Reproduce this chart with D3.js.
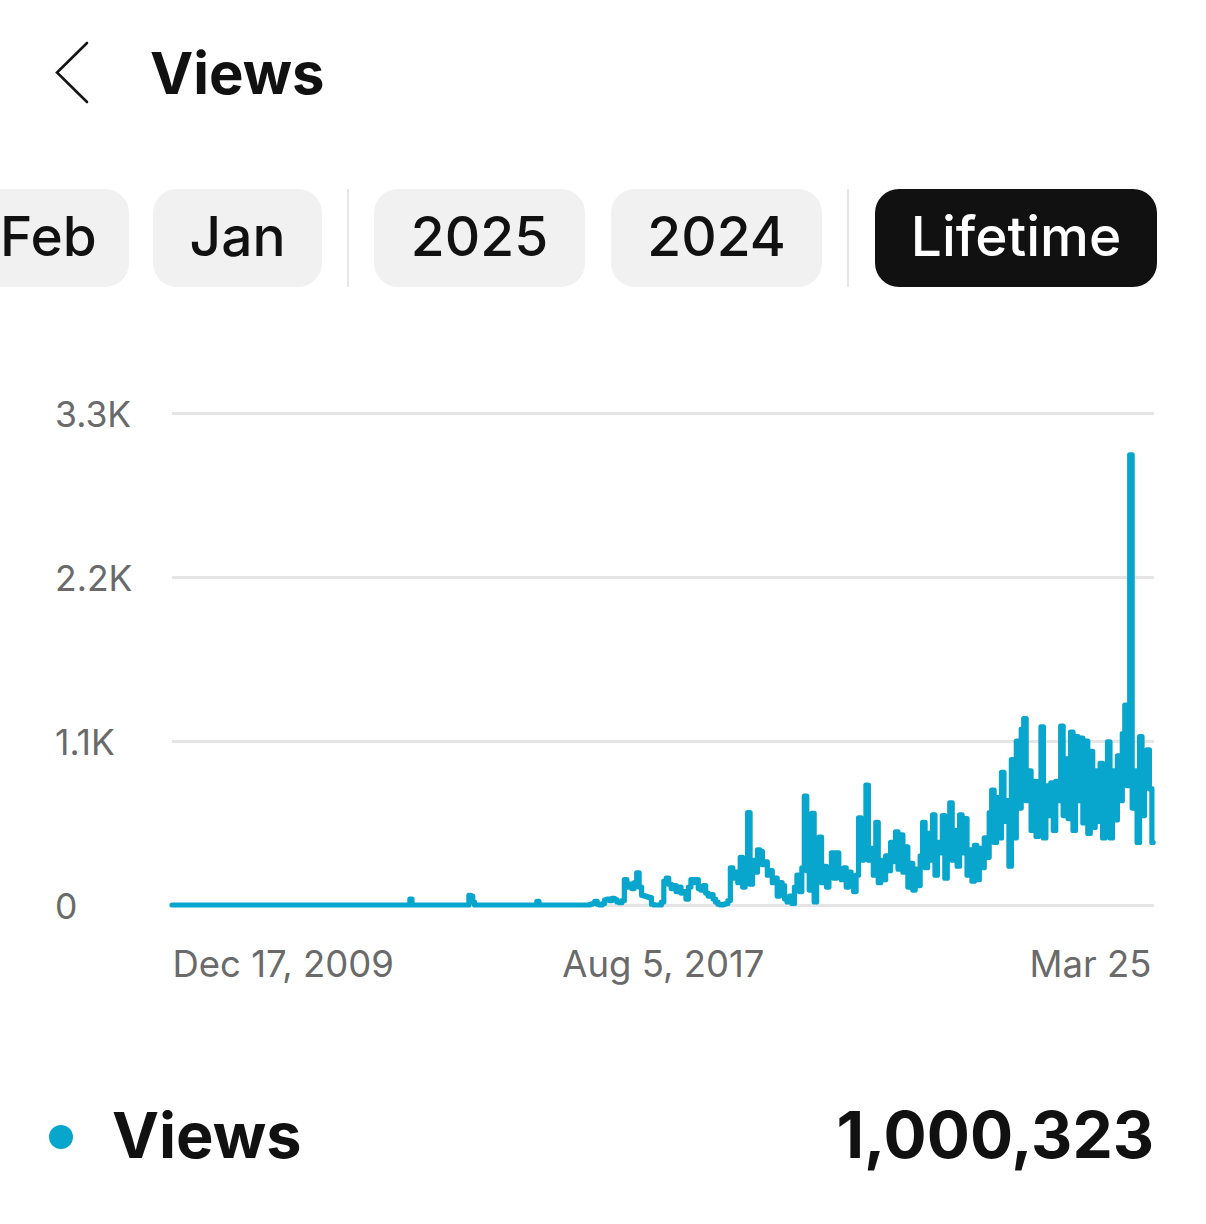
<!DOCTYPE html>
<html>
<head>
<meta charset="utf-8">
<script src="https://cdn.jsdelivr.net/npm/d3@7"></script>
<style>
  html, body { margin: 0; padding: 0; background: #ffffff; }
  svg { display: block; }
  text { font-family: Inter, "Noto Sans", "Liberation Sans", sans-serif; }
</style>
</head>
<body>
<svg id="chart" width="1206" height="1224"></svg>
<script>
// ---------------- data ----------------
const titleText = "Views";
const periodLabels = ["Feb", "Jan", "2025", "2024", "Lifetime"];
const selectedPeriod = "Lifetime";
const legendLabel = "Views";
const totalViews = 1000323;

const startDate = "2009-12-17";
const endDate = "2025-03-25";

// sparse early days (days since startDate) and daily views
const earlyDays  = [0, 1345, 1357, 1369, 1680, 1692, 1704, 1712, 1724, 2066, 2078, 2090];
const earlyViews = [0,    0,   40,    0,    0,   65,   60,   20,    0,    0,   25,    0];

// recent period, sampled every 14 days from recentStart
const recentStart = "2016-05-26";
const recentStepDays = 14;
const recentViews = [
  0, 0, 5, 10, 25, 5, 0, 10, 35, 40,
  30, 45, 35, 20, 15, 30, 170, 120, 140, 110,
  150, 215, 120, 65, 60, 55, 50, 5, 0, 0,
  0, 20, 160, 180, 140, 110, 130, 90, 120, 80,
  90, 40, 120, 170, 150, 170, 110, 100, 130, 80,
  60, 70, 40, 20, 5, 0, 5, 10, 30, 250,
  180, 220, 150, 320, 120, 260, 620, 140, 300, 220,
  370, 360, 270, 290, 200, 230, 150, 180, 60, 150,
  130, 40, 20, 60, 10, 120, 200, 90, 250, 730,
  230, 100, 615, 20, 190, 455, 150, 260, 120, 250,
  350, 180, 350, 220, 170, 250, 120, 220, 180, 90,
  200, 585, 300, 480, 805, 300, 380, 200, 555, 150,
  300, 170, 330, 230, 420, 290, 490, 240, 470, 220,
  390, 120, 280, 100, 240, 130, 330, 555, 250, 480,
  300, 605, 200, 420, 350, 600, 180, 450, 685, 300,
  500, 260, 605, 350, 580, 200, 370, 160, 400, 170,
  380, 250, 450, 320, 620, 770, 420, 720, 450, 890,
  560, 700, 260, 975, 450, 1100, 650, 1180, 1250, 700,
  900, 500, 830, 460, 830, 1195, 450, 800, 600, 820,
  500, 830, 700, 1200, 600, 980, 580, 1160, 500, 1130,
  700, 1120, 550, 1100, 480, 1030, 520, 900, 560, 950,
  450, 700, 1095, 450, 900, 570, 1000, 700, 1150, 1340,
  800, 3020, 650, 900, 420, 1130, 600, 1000, 1040, 780,
  420
];

const yTicks = [0, 1100, 2200, 3300];
const yTickLabels = ["0", "1.1K", "2.2K", "3.3K"];
const xTickDates = ["2009-12-17", "2017-08-05", "2025-03-25"];
const xTickLabels = ["Dec 17, 2009", "Aug 5, 2017", "Mar 25"];

// ---------------- build ----------------
(function () {
const parse = d3.utcParse("%Y-%m-%d");
const t0 = parse(startDate), t1 = parse(endDate), tr = parse(recentStart);
const series = [];
earlyDays.forEach((d, i) => series.push({ date: d3.utcDay.offset(t0, d), value: earlyViews[i] }));
recentViews.forEach((v, i) => series.push({ date: d3.utcDay.offset(tr, i * recentStepDays), value: v }));

const lineColor = "#08a5cd";
const svg = d3.select("#chart");

// header
svg.append("path")
  .attr("d", "M87,43 L57,72.5 L87,102")
  .attr("fill", "none").attr("stroke", "#151515").attr("stroke-width", 2.6)
  .attr("stroke-linecap", "round").attr("stroke-linejoin", "miter");
svg.append("text").attr("x", 150).attr("y", 94)
  .attr("font-size", 58).attr("font-weight", 700).attr("fill", "#111")
  .text(titleText);

// period buttons
const buttons = [
  { label: periodLabels[0], x0: -40, x1: 129 },
  { label: periodLabels[1], x0: 153, x1: 322 },
  { label: periodLabels[2], x0: 374, x1: 585 },
  { label: periodLabels[3], x0: 611, x1: 822 },
  { label: periodLabels[4], x0: 875, x1: 1157 }
];
const btnY = 189, btnH = 98;
const bg = svg.append("g");
buttons.forEach((b, i) => {
  const sel = b.label === selectedPeriod;
  bg.append("rect").attr("x", b.x0).attr("y", btnY).attr("width", b.x1 - b.x0).attr("height", btnH)
    .attr("rx", 24).attr("fill", sel ? "#111111" : "#f1f1f1");
  const tx = i === 0 ? 0 : (b.x0 + b.x1) / 2;
  bg.append("text").attr("x", tx).attr("y", 256)
    .attr("text-anchor", i === 0 ? "start" : "middle")
    .attr("font-size", 55).attr("font-weight", 500)
    .attr("fill", sel ? "#ffffff" : "#111111")
    .text(b.label);
});
[348, 848].forEach(sx => {
  bg.append("line").attr("x1", sx).attr("x2", sx).attr("y1", btnY).attr("y2", btnY + btnH)
    .attr("stroke", "#e6e6e6").attr("stroke-width", 2);
});

// chart
const pLeft = 172, pRight = 1154, pTop = 413, pBottom = 905;
const x = d3.scaleUtc().domain([t0, t1]).range([pLeft, pRight]);
const y = d3.scaleLinear().domain([0, 3300]).range([pBottom, pTop]);

const yAxis = svg.append("g").attr("transform", `translate(${pLeft},0)`)
  .call(d3.axisLeft(y).tickValues(yTicks).tickSize(-(pRight - pLeft))
    .tickFormat((d, i) => yTickLabels[i]));
yAxis.select(".domain").remove();
yAxis.selectAll(".tick line").attr("stroke", "#e5e5e5").attr("stroke-width", 3);
yAxis.selectAll(".tick text")
  .attr("x", 55 - pLeft).attr("text-anchor", "start").attr("dy", "0.38em")
  .attr("font-size", 35.5).attr("fill", "#6a6a6a")
  .style("font-family", "Inter, 'Noto Sans', sans-serif");

const xAxis = svg.append("g").attr("transform", `translate(0,${pBottom})`)
  .call(d3.axisBottom(x).tickValues(xTickDates.map(parse)).tickSize(0)
    .tickFormat((d, i) => xTickLabels[i]));
xAxis.select(".domain").remove();
xAxis.selectAll(".tick text")
  .attr("y", 72).attr("dy", 0)
  .attr("dx", (d, i) => i === xTickLabels.length - 1 ? -3 : 0)
  .attr("text-anchor", (d, i) => i === 0 ? "start" : (i === xTickLabels.length - 1 ? "end" : "middle"))
  .attr("font-size", 36.5).attr("fill", "#6a6a6a")
  .style("font-family", "Inter, 'Noto Sans', sans-serif");

const line = d3.line().curve(d3.curveStep).x(d => x(d.date)).y(d => y(d.value));
svg.append("path").datum(series)
  .attr("d", line)
  .attr("fill", "none").attr("stroke", lineColor).attr("stroke-width", 5.2)
  .attr("stroke-linejoin", "round").attr("stroke-linecap", "round");

// legend
svg.append("circle").attr("cx", 61).attr("cy", 1137).attr("r", 12).attr("fill", lineColor);
svg.append("text").attr("x", 112).attr("y", 1158)
  .attr("font-size", 63).attr("font-weight", 700).attr("fill", "#111").text(legendLabel);
svg.append("text").attr("x", 1154).attr("y", 1158).attr("text-anchor", "end")
  .attr("font-size", 64).attr("font-weight", 700).attr("fill", "#111")
  .text(d3.format(",")(totalViews));
})();
</script>
</body>
</html>
